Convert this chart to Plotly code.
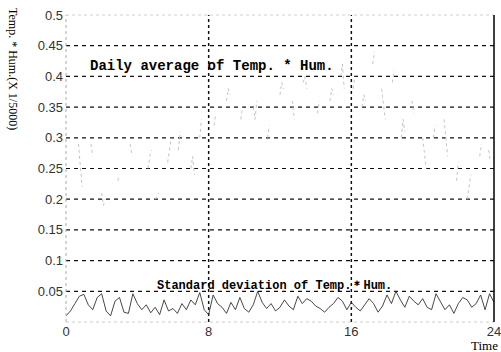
import plotly.graph_objects as go

# ---------------- data ----------------
x_ticks = [0, 8, 16, 24]
x_tick_labels = ["0", "8", "16", "24"]
y_ticks = [0, 0.05, 0.1, 0.15, 0.2, 0.25, 0.3, 0.35, 0.4, 0.45, 0.5]
y_tick_labels = ["", "0.05", "0.1", "0.15", "0.2", "0.25", "0.3", "0.35", "0.4", "0.45", "0.5"]
grid_y = [0.05, 0.1, 0.15, 0.2, 0.25, 0.3, 0.35, 0.4, 0.45]
grid_x = [8, 16]

# daily average (faint, broken strokes; None = gap)
avg_t = [0.7, 0.8, 0.9, None, 1.4, 1.5, None, 2.0, 2.1, 2.2, None, 2.9, 3.0, None,
         3.6, 3.7, None, 4.6, 4.7, 4.8, None, 5.0, 5.2, None, 5.7, 5.8, 5.9, None,
         6.3, 6.4, None, 7.0, 7.1, 7.2, None, 7.5, 7.6, None, 8.3, 8.4, None, 9.0, 9.1, 9.2, None,
         9.8, 9.9, None, 10.5, 10.6, 10.7, None, 11.3, 11.4, None, 12.0, 12.1, 12.2, None,
         12.7, 12.8, None, 13.3, 13.4, 13.5, None, 14.1, 14.2, None, 14.8, 14.9, 15.0, None,
         15.4, 15.5, 15.6, None, 16.1, 16.2, None, 16.6, 16.7, 16.8, None, 17.2, 17.3, None,
         17.7, 17.8, 17.9, None, 18.3, 18.4, None, 18.8, 18.9, 19.0, None, 19.4, 19.5, None,
         20.0, 20.1, 20.2, None, 20.6, 20.7, None, 21.2, 21.3, 21.4, None, 21.9, 22.0, None,
         22.5, 22.6, 22.7, None, 23.2, 23.3, None, 23.7, 23.8]
avg_v = [0.29, 0.26, 0.22, None, 0.29, 0.27, None, 0.21, 0.19, 0.2, None, 0.23, 0.24, None,
         0.29, 0.27, None, 0.25, 0.27, 0.28, None, 0.2, 0.21, None, 0.26, 0.28, 0.3, None,
         0.28, 0.31, None, 0.25, 0.27, 0.24, None, 0.3, 0.33, None, 0.32, 0.34, None, 0.36, 0.38, 0.37, None,
         0.33, 0.35, None, 0.35, 0.33, 0.36, None, 0.3, 0.32, None, 0.37, 0.39, 0.38, None,
         0.36, 0.33, None, 0.39, 0.4, 0.38, None, 0.34, 0.36, None, 0.36, 0.38, 0.37, None,
         0.4, 0.42, 0.38, None, 0.38, 0.4, None, 0.35, 0.37, 0.36, None, 0.42, 0.44, None,
         0.38, 0.35, 0.33, None, 0.39, 0.41, None, 0.3, 0.33, 0.31, None, 0.36, 0.34, None,
         0.3, 0.27, 0.25, None, 0.3, 0.32, None, 0.33, 0.3, 0.27, None, 0.23, 0.26, None,
         0.2, 0.22, 0.24, None, 0.27, 0.29, None, 0.28, 0.26]

# standard deviation (every 15 min)
std_t = [i * 0.25 for i in range(97)]
std_v = [0.010, 0.018, 0.030, 0.042, 0.045, 0.028, 0.020, 0.040, 0.046, 0.018, 0.010, 0.034,
         0.040, 0.016, 0.014, 0.046, 0.030, 0.020, 0.028, 0.015, 0.024, 0.012, 0.036, 0.018,
         0.022, 0.014, 0.030, 0.020, 0.036, 0.028, 0.048, 0.020, 0.012, 0.044, 0.030, 0.024,
         0.014, 0.032, 0.020, 0.040, 0.022, 0.016, 0.028, 0.050, 0.032, 0.022, 0.030, 0.018,
         0.024, 0.036, 0.026, 0.020, 0.042, 0.030, 0.038, 0.034, 0.026, 0.022, 0.016, 0.024,
         0.030, 0.040, 0.034, 0.020, 0.032, 0.024, 0.018, 0.028, 0.038, 0.030, 0.016, 0.026,
         0.044, 0.030, 0.050, 0.036, 0.024, 0.042, 0.034, 0.028, 0.038, 0.024, 0.020, 0.046,
         0.034, 0.020, 0.028, 0.014, 0.030, 0.040, 0.036, 0.024, 0.030, 0.044, 0.020, 0.046,
         0.032]

# ---------------- figure ----------------
fig = go.Figure()
fig.add_trace(go.Scatter(x=avg_t, y=avg_v, mode="lines", connectgaps=False,
                         line=dict(color="#c4c4c4", width=1, dash="dot"), hoverinfo="skip"))
fig.add_trace(go.Scatter(x=std_t, y=std_v, mode="lines",
                         line=dict(color="#333333", width=0.9), hoverinfo="skip"))

shapes = []
for gy in grid_y:
    shapes.append(dict(type="line", xref="paper", yref="y", x0=0, x1=1, y0=gy, y1=gy,
                       line=dict(color="#111111", width=1.2, dash="4px,4px"), layer="below"))
for gx in grid_x:
    shapes.append(dict(type="line", xref="x", yref="paper", x0=gx, x1=gx, y0=0, y1=1,
                       line=dict(color="#111111", width=1.5, dash="3px,3px"), layer="below"))
# borders
shapes.append(dict(type="line", xref="paper", yref="paper", x0=0, x1=0, y0=0, y1=1,
                   line=dict(color="#aaaaaa", width=1, dash="dot")))
shapes.append(dict(type="line", xref="paper", yref="paper", x0=0, x1=1, y0=0, y1=0,
                   line=dict(color="#cccccc", width=1, dash="dot")))
shapes.append(dict(type="line", xref="paper", yref="paper", x0=0, x1=1, y0=1, y1=1,
                   line=dict(color="#d0d0d0", width=1, dash="dot")))
shapes.append(dict(type="line", xref="paper", yref="paper", x0=1, x1=1, y0=0, y1=1,
                   line=dict(color="#000000", width=1.5)))

annotations = [
    dict(text="<b>Daily average of Temp. * Hum.</b>", x=1.25, y=0.4, xref="x", yref="y",
         xanchor="left", yanchor="bottom", showarrow=False,
         font=dict(family="Liberation Mono", size=14, color="#000000")),
    dict(text="<b>Standard deviation of Temp.＊Hum.</b>", x=5.0, y=0.05, xref="x", yref="y",
         xanchor="left", yanchor="bottom", yshift=-4, showarrow=False,
         font=dict(family="Liberation Mono", size=12, color="#000000")),
    dict(text="Time", x=1, y=0, xref="paper", yref="paper", xanchor="right", yanchor="middle",
         yshift=-23, xshift=6, showarrow=False,
         font=dict(family="Liberation Serif", size=13, color="#000000")),
    dict(text="Temp. * Hum.(X 1/5000)", x=0, y=1, xref="paper", yref="paper",
         xanchor="center", yanchor="top", xshift=-53, yshift=9, textangle=90, showarrow=False,
         font=dict(family="Liberation Serif", size=12, color="#000000")),
]

fig.update_layout(
    width=501, height=352,
    margin=dict(l=66, r=7, t=15, b=30),
    paper_bgcolor="white", plot_bgcolor="white",
    showlegend=False,
    shapes=shapes,
    annotations=annotations,
    xaxis=dict(range=[0, 24], tickvals=x_ticks, ticktext=x_tick_labels, showgrid=False,
               zeroline=False, showline=False, ticks="", ticklen=0, automargin=False,
               ticklabeloverflow="allow",
               tickfont=dict(family="Liberation Sans", size=13, color="#333333")),
    yaxis=dict(range=[0, 0.5], tickvals=y_ticks, ticktext=y_tick_labels, showgrid=False,
               zeroline=False, showline=False, ticks="", ticklabelstandoff=2,
               tickfont=dict(family="Liberation Sans", size=13, color="#333333")),
)

fig.write_html("out.html")
